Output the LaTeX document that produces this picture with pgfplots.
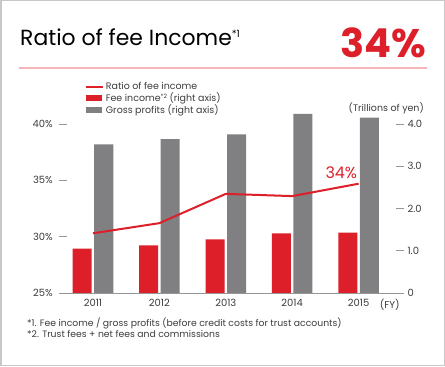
\documentclass[border=0pt]{standalone}
\usepackage{fontspec}
\setmainfont{Poppins}
\usepackage{pgfplots}
\pgfplotsset{compat=1.18}
\definecolor{cred}{RGB}{221,31,41}
\definecolor{cgray}{RGB}{128,128,131}
\definecolor{cpink}{RGB}{244,182,186}
\definecolor{cframe}{RGB}{200,200,200}
\definecolor{ctext}{RGB}{60,60,60}
\definecolor{ctick}{RGB}{150,150,150}
\begin{document}
\begin{tikzpicture}[x=1bp,y=1bp]
\useasboundingbox (0,0) rectangle (445,366);
\draw[cframe, line width=1.5bp] (0.75,0.75) rectangle (444.25,365.25);
\node[anchor=base west, inner sep=0, font=\fontsize{22}{26}\selectfont, text=black] at (20,321) {Ratio of fee Income\raisebox{8bp}{\fontsize{10}{12}\selectfont *1}};
\node[anchor=base east, inner sep=0, font=\fontsize{40}{44}\selectfont\bfseries, text=cred] at (426,309) {34\%};
\draw[cpink, line width=2bp] (19,298.5) -- (427,298.5);

\begin{axis}[
  at={(59.3bp,73bp)}, anchor=south west,
  scale only axis, width=344.7bp, height=169bp,
  xmin=-0.5075, xmax=4.684, ymin=0, ymax=4,
  clip=false,
  axis x line=none, axis y line*=right,
  y axis line style={draw=none},
  ytick={0,1,2,3,4}, yticklabels={0,1.0,2.0,3.0,4.0},
  major tick length=8bp, tick align=inside,
  major y tick style={ctick, line width=0.8bp},
  yticklabel style={font=\fontsize{10}{12}\selectfont, text=ctext, anchor=west, xshift=0bp},
  /pgf/number format/assume math mode=true,
]
\addplot[ybar, bar width=19bp, bar shift=-10.75bp, fill=cred, draw=none] coordinates {(0,1.05) (1,1.13) (2,1.27) (3,1.41) (4,1.43)};
\addplot[ybar, bar width=19bp, bar shift=10.75bp, fill=cgray, draw=none] coordinates {(0,3.52) (1,3.645) (2,3.756) (3,4.24) (4,4.15)};
\end{axis}

\begin{axis}[
  at={(59.3bp,73bp)}, anchor=south west,
  scale only axis, width=344.7bp, height=169bp,
  xmin=-0.5075, xmax=4.684, ymin=25, ymax=40,
  clip=false,
  axis x line*=bottom, axis y line*=left,
  x axis line style={ctick, line width=0.8bp, -},
  y axis line style={draw=none},
  xtick={0,1,2,3,4}, xticklabels={2011,2012,2013,2014,2015},
  major x tick style={draw=none},
  ytick={25,30,35,40}, yticklabels={25\%,30\%,35\%,40\%},
  major tick length=8bp, tick align=inside,
  major y tick style={ctick, line width=0.8bp},
  yticklabel style={font=\fontsize{10}{12}\selectfont, text=ctext, anchor=east, xshift=-3bp},
  xticklabel style={font=\fontsize{10}{12}\selectfont, text=ctext, yshift=-3bp},
  /pgf/number format/assume math mode=true,
  legend style={at={(0.075,1.255)}, anchor=north west, draw=none, fill=none, inner sep=0pt,
    font=\fontsize{9.5}{11}\selectfont, text=ctext, row sep=-1.5bp,
    nodes={inner sep=1.5bp}},
  legend cell align=left,
]
\addplot[cred, line width=2bp] coordinates {(0,30.3) (1,31.2) (2,33.8) (3,33.6) (4,34.7)};
\addlegendentry{Ratio of fee income}
\addlegendimage{legend image code/.code={\fill[cred] (0bp,-2.5bp) rectangle (15bp,2.5bp);}}
\addlegendentry{Fee income\raisebox{3.2bp}{\fontsize{6}{7}\selectfont *2} (right axis)}
\addlegendimage{legend image code/.code={\fill[cgray] (0bp,-2.5bp) rectangle (15bp,2.5bp);}}
\addlegendentry{Gross profits (right axis)}
\node[anchor=south east, text=cred, font=\fontsize{16}{18}\selectfont, inner sep=0] at (axis cs:3.98,35.1) {34\%};
\node[text=ctext, font=\fontsize{10}{12}\selectfont] at (axis cs:4.47,25) [yshift=-12bp] {(FY)};
\end{axis}
\node[anchor=east, text=ctext, font=\fontsize{9.5}{12}\selectfont, inner sep=0] at (424,258) {(Trillions of yen)};
\node[anchor=west, text=ctext, font=\fontsize{9.3}{12}\selectfont, inner sep=0] at (27,43) {*1. Fee income / gross profits (before credit costs for trust accounts)};
\node[anchor=west, text=ctext, font=\fontsize{9.3}{12}\selectfont, inner sep=0] at (27,32) {*2. Trust fees + net fees and commissions};
\end{tikzpicture}
\end{document}
